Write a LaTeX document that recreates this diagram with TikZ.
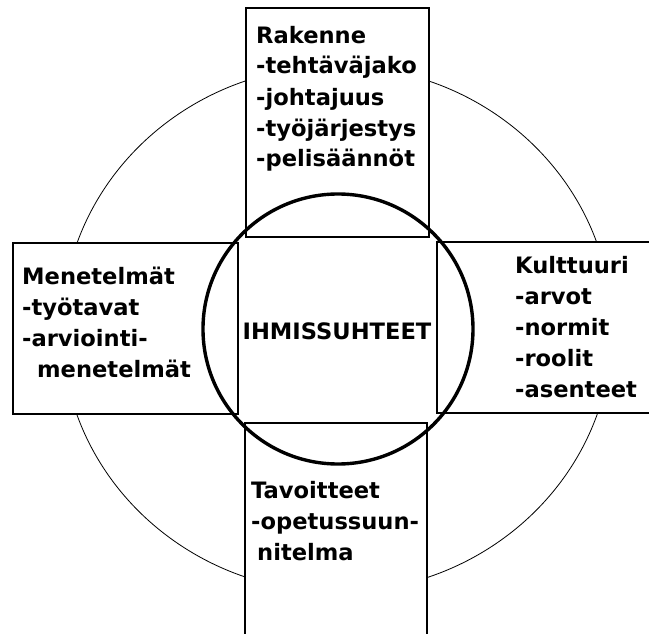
\documentclass[tikz,border=0pt]{standalone}
\usepackage{fontspec}
\setmainfont{DejaVu Sans}
\usepackage{tikz}
\usetikzlibrary{positioning}
\tikzset{
  crossbox/.style={draw=black,line width=1.6pt,fill=white},
  ring/.style={draw=black,line width=0.8pt},
  core/.style={draw=black,line width=3.4pt},
  boxtext/.style={anchor=base west,align=left,inner sep=0pt,
                  font=\fontsize{22.6}{31}\selectfont\bfseries},
}

\begin{document}
\begin{tikzpicture}[x=1pt,y=-1pt]
  \useasboundingbox (0,0) rectangle (649,634);
  % ================= outer ring =================
  \draw[ring] (337,329) ellipse [x radius=275, y radius=263];

  % ================= the four arms of the cross =================
  \draw[crossbox] (246,8) rectangle (429,237);
  \draw[crossbox] (13,243) rectangle (238,414);
  \fill[white] (437,242) rectangle (649,413);
  \draw[crossbox] (649,242) -- (437,242) -- (437,413) -- (649,413);
  \fill[white] (245,423) rectangle (427,634);
  \draw[crossbox] (245,634) -- (245,423) -- (427,423) -- (427,634);

  % ================= inner circle =================
  \draw[core] (338,329) circle [radius=135];

  % ================= texts (placed at the last line's baseline) =================
  \node[boxtext] (rak) at (256,167)
    {Rakenne\\-tehtäväjako\\-johtajuus\\-työjärjestys\\-pelisäännöt};
  \node[boxtext] (men) at (22,377)
    {Menetelmät\\-työtavat\\-arviointi-\\\hspace*{15pt}menetelmät};
  \node[boxtext] (kul) at (515,397)
    {Kulttuuri\\-arvot\\-normit\\-roolit\\-asenteet};
  \node[boxtext] (tav) at (251,560)
    {Tavoitteet\\-opetussuun-\\\hspace*{6pt}nitelma};
  \node[boxtext,anchor=base] (ihm) at (337,339) {IHMISSUHTEET};
\end{tikzpicture}
\end{document}
